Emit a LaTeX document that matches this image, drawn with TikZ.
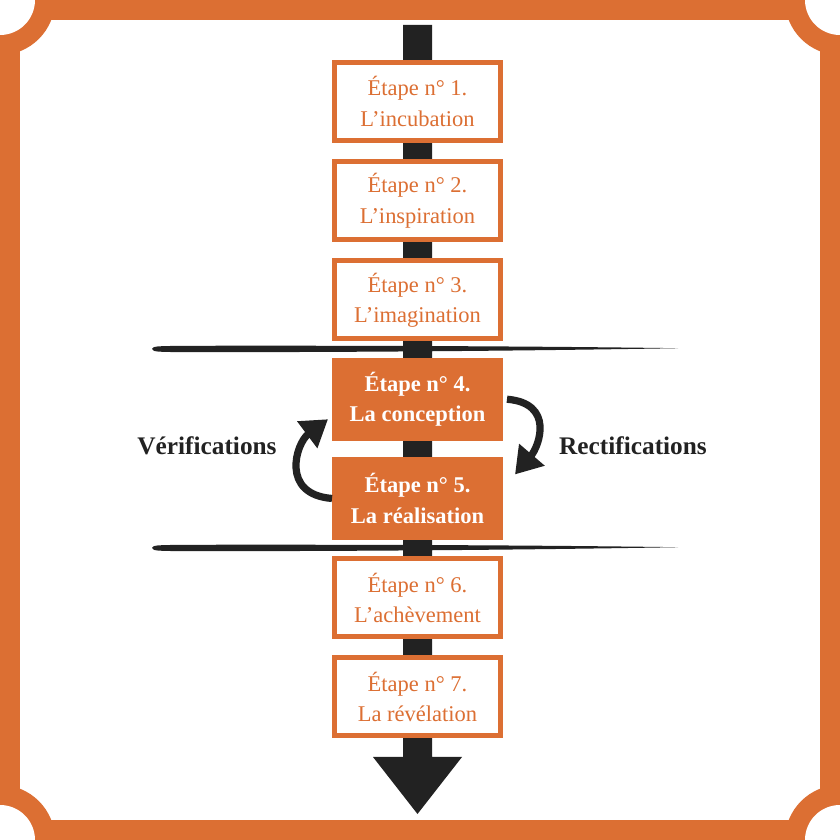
\documentclass[tikz,border=0pt]{standalone}
\usepackage{fontspec}
\setmainfont{Liberation Serif}
\usepackage{tikz}
\usetikzlibrary {positioning}
\usetikzlibrary {math}
\usetikzlibrary {arrows.meta}
\definecolor{etape}{HTML}{DC6F33}
\definecolor{encre}{HTML}{222222}
\tikzset{
etapeBox/.style={rectangle,minimum height=1.95cm,minimum width=4.15cm,line width=0.125cm,draw=etape,fill=white,text=etape,align=center,font=\fontsize{16}{21.5}\selectfont}
}
\tikzset{
etapeFull/.style={etapeBox,fill=etape,text=white,font=\fontsize{16}{21.5}\selectfont\bfseries}
}
\tikzset{
boucle/.style={line width=0.18cm,draw=encre,-{Triangle[length=0.65cm,width=0.8cm]}}
}

\begin{document}
\begin{tikzpicture}[label/.style={font=\fontsize{18}{21}\selectfont\bfseries,text=encre}]
\useasboundingbox (0,0) rectangle (21,21);
\clip (0,0) rectangle (21,21);

% cadre
\fill[etape] (0,0) rectangle (21,21);
\fill[white] (0.5,0.5) rectangle (20.5,20.5);
\foreach \c in {(0,0),(21,0),(0,21),(21,21)}
{
\fill[etape] \c circle (1.375);
\fill[white] \c circle (0.875);
}

% traits
\foreach \y in {12.275,7.3}
{
\fill[encre] (3.8,\y) .. controls (3.85,\y+0.07) .. (4.6,\y+0.08) .. controls (10,\y+0.09) and (14,\y+0.06) .. (16.95,\y+0.02) .. controls (14,\y-0.03) and (10,\y-0.08) .. (4.6,\y-0.08) .. controls (3.85,\y-0.07) .. cycle;
}

% fleche
\fill[encre] (10.075,20.375) -- (10.8,20.375) -- (10.8,2.075) -- (11.55,2.075) -- (10.4375,0.65) -- (9.325,2.075) -- (10.075,2.075) -- cycle;

%------------------------------------------------------------------------------------------------------------%
\node[etapeBox] (E1) at (10.4375,18.4625) {Étape n° 1.\\L’incubation};
\foreach \i/\kind/\name in {2/etapeBox/L’inspiration,3/etapeBox/L’imagination,4/etapeFull/La conception,5/etapeFull/La réalisation,6/etapeBox/L’achèvement,7/etapeBox/La révélation}
{
\tikzmath{
int \j;
\j = \i-1;
}
\node[\kind,below=0.406cm of E\j] (E\i) {Étape n° \i.\\\name};
}

\draw[boucle] (E5.west) .. controls +(-1.3,0.1) and +(-0.8,-0.6) .. ([xshift=-0.1cm,yshift=-0.5cm]E4.west);
\draw[boucle] ([xshift=0.1cm]E4.east) .. controls +(1.2,-0.1) and +(0.6,0.7) .. ([xshift=0.3cm,yshift=0.6cm]E5.east);

\node[label] (verif) at (5.175,9.85) {Vérifications};
\node[label] (rectif) at (15.825,9.85) {Rectifications};
%\node[etapeBox] (E8) ...

\end{tikzpicture}
\end{document}
